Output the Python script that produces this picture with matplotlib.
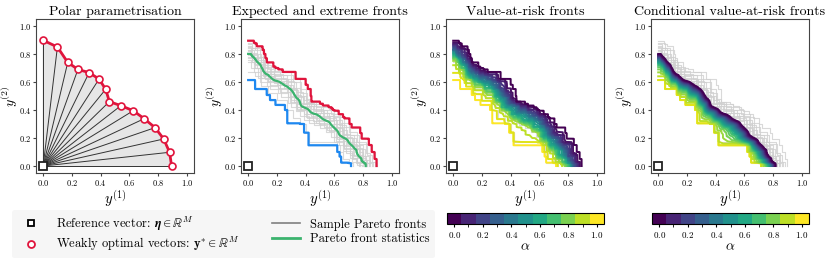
import numpy as np
import matplotlib
matplotlib.use('Agg')
import matplotlib.pyplot as plt
from matplotlib.colors import ListedColormap, BoundaryNorm
from matplotlib.cm import ScalarMappable
from matplotlib.lines import Line2D

plt.rcParams['font.family'] = 'serif'
plt.rcParams['font.serif'] = ['cmr10']
plt.rcParams['mathtext.fontset'] = 'cm'
plt.rcParams['axes.formatter.use_mathtext'] = True

# --- data ---
# polar parametrisation of one front (15 rays)
polar_y1 = [0.0, 0.099, 0.171, 0.242, 0.320, 0.389, 0.435, 0.461, 0.541, 0.627, 0.703, 0.779, 0.839, 0.880, 0.894]
polar_y2 = [0.898, 0.850, 0.740, 0.690, 0.667, 0.621, 0.548, 0.460, 0.431, 0.395, 0.338, 0.274, 0.193, 0.098, 0.0]

# sample Pareto fronts, as (y1, y2) corner points of each staircase
front_max = [(0.04, 0.895), (0.06, 0.875), (0.10, 0.855), (0.11, 0.83), (0.12, 0.80), (0.13, 0.77),
             (0.175, 0.74), (0.21, 0.70), (0.24, 0.69), (0.33, 0.672), (0.40, 0.622), (0.415, 0.58),
             (0.435, 0.55), (0.44, 0.50), (0.50, 0.46), (0.52, 0.445), (0.56, 0.432), (0.59, 0.41),
             (0.63, 0.395), (0.66, 0.37), (0.705, 0.34), (0.72, 0.30), (0.78, 0.275), (0.79, 0.235),
             (0.84, 0.195), (0.86, 0.15), (0.88, 0.10), (0.894, 0.05)]
front_j = [(0.05, 0.88), (0.10, 0.83), (0.13, 0.76), (0.19, 0.71), (0.30, 0.67), (0.36, 0.62), (0.40, 0.55),
           (0.44, 0.48), (0.52, 0.44), (0.60, 0.40), (0.67, 0.35), (0.71, 0.28), (0.77, 0.22), (0.83, 0.16),
           (0.86, 0.08), (0.88, 0.03)]
front_a = [(0.03, 0.87), (0.08, 0.84), (0.12, 0.78), (0.16, 0.72), (0.22, 0.68), (0.31, 0.65), (0.37, 0.60),
           (0.41, 0.52), (0.47, 0.46), (0.58, 0.42), (0.64, 0.37), (0.70, 0.31), (0.76, 0.24), (0.82, 0.17),
           (0.85, 0.09), (0.87, 0.03)]
front_k = [(0.03, 0.86), (0.09, 0.80), (0.14, 0.74), (0.18, 0.69), (0.27, 0.65), (0.33, 0.60), (0.38, 0.53),
           (0.42, 0.47), (0.51, 0.43), (0.59, 0.38), (0.65, 0.33), (0.69, 0.26), (0.75, 0.20), (0.81, 0.12),
           (0.85, 0.04)]
front_b = [(0.02, 0.85), (0.06, 0.81), (0.11, 0.76), (0.15, 0.70), (0.24, 0.66), (0.30, 0.62), (0.36, 0.56),
           (0.40, 0.50), (0.46, 0.45), (0.55, 0.40), (0.63, 0.36), (0.68, 0.29), (0.74, 0.22), (0.80, 0.15),
           (0.84, 0.07), (0.86, 0.02)]
front_l = [(0.06, 0.84), (0.10, 0.78), (0.12, 0.73), (0.18, 0.67), (0.26, 0.63), (0.31, 0.58), (0.37, 0.51),
           (0.44, 0.45), (0.52, 0.41), (0.60, 0.36), (0.65, 0.30), (0.71, 0.23), (0.77, 0.17), (0.80, 0.10),
           (0.83, 0.04)]
front_c = [(0.04, 0.83), (0.09, 0.77), (0.13, 0.71), (0.19, 0.66), (0.28, 0.62), (0.34, 0.55), (0.38, 0.49),
           (0.45, 0.43), (0.53, 0.39), (0.61, 0.34), (0.66, 0.27), (0.72, 0.21), (0.78, 0.14), (0.82, 0.06),
           (0.84, 0.02)]
front_p = [(0.02, 0.83), (0.07, 0.79), (0.11, 0.74), (0.16, 0.68), (0.23, 0.64), (0.32, 0.61), (0.35, 0.54),
           (0.39, 0.50), (0.47, 0.44), (0.56, 0.38), (0.62, 0.33), (0.67, 0.28), (0.73, 0.20), (0.79, 0.13),
           (0.82, 0.07), (0.84, 0.02)]
front_d = [(0.02, 0.82), (0.07, 0.78), (0.10, 0.72), (0.17, 0.64), (0.25, 0.60), (0.33, 0.56), (0.36, 0.48),
           (0.43, 0.42), (0.50, 0.38), (0.57, 0.35), (0.64, 0.30), (0.69, 0.22), (0.76, 0.16), (0.80, 0.08),
           (0.83, 0.03)]
front_m = [(0.03, 0.81), (0.06, 0.76), (0.11, 0.70), (0.18, 0.63), (0.27, 0.59), (0.32, 0.53), (0.37, 0.46),
           (0.44, 0.40), (0.52, 0.36), (0.60, 0.32), (0.66, 0.25), (0.71, 0.18), (0.77, 0.12), (0.80, 0.06),
           (0.82, 0.02)]
front_e = [(0.03, 0.80), (0.08, 0.74), (0.12, 0.68), (0.20, 0.62), (0.29, 0.58), (0.35, 0.50), (0.41, 0.44),
           (0.48, 0.37), (0.56, 0.33), (0.63, 0.28), (0.68, 0.20), (0.74, 0.15), (0.79, 0.07), (0.82, 0.02)]
front_n = [(0.04, 0.79), (0.10, 0.73), (0.14, 0.66), (0.21, 0.61), (0.28, 0.56), (0.33, 0.49), (0.39, 0.42),
           (0.45, 0.37), (0.53, 0.32), (0.61, 0.28), (0.66, 0.21), (0.71, 0.14), (0.76, 0.08), (0.80, 0.03)]
front_f = [(0.05, 0.78), (0.09, 0.72), (0.14, 0.65), (0.22, 0.60), (0.30, 0.55), (0.34, 0.47), (0.40, 0.41),
           (0.47, 0.35), (0.55, 0.31), (0.62, 0.26), (0.67, 0.19), (0.73, 0.13), (0.78, 0.06), (0.81, 0.02)]
front_o = [(0.05, 0.77), (0.09, 0.70), (0.15, 0.63), (0.22, 0.58), (0.29, 0.53), (0.34, 0.46), (0.41, 0.40),
           (0.49, 0.34), (0.56, 0.30), (0.61, 0.25), (0.67, 0.18), (0.71, 0.12), (0.75, 0.06), (0.78, 0.02)]
front_g = [(0.02, 0.76), (0.07, 0.70), (0.13, 0.63), (0.21, 0.57), (0.28, 0.52), (0.33, 0.45), (0.39, 0.39),
           (0.46, 0.33), (0.54, 0.29), (0.60, 0.24), (0.66, 0.17), (0.72, 0.11), (0.76, 0.05), (0.79, 0.01)]
front_h = [(0.04, 0.74), (0.08, 0.67), (0.15, 0.60), (0.23, 0.55), (0.30, 0.49), (0.36, 0.42), (0.42, 0.36),
           (0.50, 0.31), (0.58, 0.27), (0.63, 0.21), (0.68, 0.15), (0.72, 0.09), (0.77, 0.03)]
front_i = [(0.05, 0.674), (0.09, 0.64), (0.14, 0.57), (0.20, 0.52), (0.27, 0.47), (0.31, 0.40), (0.36, 0.34),
           (0.40, 0.30), (0.42, 0.24), (0.62, 0.175), (0.66, 0.10), (0.70, 0.05), (0.73, 0.02)]
front_min = [(0.048, 0.614), (0.129, 0.55), (0.152, 0.507), (0.19, 0.471), (0.256, 0.436), (0.272, 0.40),
             (0.389, 0.305), (0.42, 0.238), (0.636, 0.148), (0.647, 0.067), (0.716, 0.024)]
sample_fronts = [front_max, front_j, front_a, front_k, front_b, front_l, front_c, front_p, front_d,
                 front_m, front_e, front_n, front_f, front_o, front_g, front_h, front_i, front_min]

alpha_levels = [0.0, 0.05, 0.1, 0.15, 0.2, 0.25, 0.3, 0.35, 0.4, 0.45, 0.5,
                0.55, 0.6, 0.65, 0.7, 0.75, 0.8, 0.85, 0.9, 0.95, 1.0]
cbar_values = [0.0, 0.1, 0.2, 0.3, 0.4, 0.5, 0.6, 0.7, 0.8, 0.9, 1.0]

RED = '#e0143c'
BLUE = '#1e88f0'
GREEN = '#3bb36e'
GREY = '#d0d0d0'


def staircase(pts):
    xs, ys = [0.0], [pts[0][1]]
    for i, (x, y) in enumerate(pts):
        nxt = pts[i + 1][1] if i + 1 < len(pts) else 0.0
        xs += [x, x]
        ys += [y, nxt]
    return xs, ys


# radial distance of each front along many rays from the origin
theta = np.linspace(0, np.pi / 2, 900)
cos_t = np.cos(theta)[:, None]
sin_t = np.sin(theta)[:, None]


def radial(pts):
    p = np.array(pts)
    with np.errstate(divide='ignore'):
        r = np.minimum(p[:, 0][None, :] / cos_t, p[:, 1][None, :] / sin_t)
    return r.max(axis=1)


R = np.array([radial(f) for f in sample_fronts])
R_sorted = np.sort(R, axis=0)
n = R.shape[0]


def to_xy(r):
    return r * np.cos(theta), r * np.sin(theta)


def var(a):
    return np.quantile(R, 1 - a, axis=0)


def cvar(a):
    q = 1 - a
    if q <= 1e-9:
        return R_sorted[0]
    tot = np.zeros(R.shape[1])
    for k in range(n):
        w = max(0.0, min((k + 1) / n, q) - k / n)
        tot += w * R_sorted[k]
    return tot / q


fig = plt.figure(figsize=(8.3, 2.63), dpi=100)
lefts = [36, 241, 446, 651]
axes = [fig.add_axes([l / 830, 1 - 173 / 263, 158 / 830, 154 / 263]) for l in lefts]
titles = ['Polar parametrisation', 'Expected and extreme fronts',
          'Value-at-risk fronts', 'Conditional value-at-risk fronts']

for ax, t in zip(axes, titles):
    ax.set_xlim(-0.05, 1.05)
    ax.set_ylim(-0.05, 1.05)
    ax.set_title(t, fontsize=10, pad=3)
    ax.set_xlabel(r'$y^{(1)}$', fontsize=10.5, labelpad=0)
    ax.set_ylabel(r'$y^{(2)}$', fontsize=10)
    ax.yaxis.set_label_coords(-0.1, 0.5)
    ax.tick_params(labelsize=6, length=2.5, pad=1.2, color='#444444')
    for s in ax.spines.values():
        s.set_color('#444444')
    ax.set_xticks([0.0, 0.2, 0.4, 0.6, 0.8, 1.0])
    ax.set_yticks([0.0, 0.2, 0.4, 0.6, 0.8, 1.0])

# panel 1
ax = axes[0]
ax.fill(np.r_[0.0, polar_y1], np.r_[0.0, polar_y2], color='#e6e6e6', zorder=1)
for x, y in zip(polar_y1, polar_y2):
    ax.plot([0, x], [0, y], color='#333333', lw=0.7, zorder=2)
ax.plot(polar_y1, polar_y2, color=RED, lw=2, zorder=3)
ax.plot(polar_y1, polar_y2, ls='none', marker='o', ms=5, mfc='white', mec=RED, mew=1.2, zorder=4)

# panel 2
ax = axes[1]
for f in sample_fronts:
    ax.plot(*staircase(f), color=GREY, lw=0.8, alpha=0.8, zorder=1)
ax.plot(*to_xy(R.max(axis=0)), color=RED, lw=1.6, zorder=3)
ax.plot(*to_xy(R.min(axis=0)), color=BLUE, lw=1.6, zorder=3)
ax.plot(*to_xy(R.mean(axis=0)), color=GREEN, lw=1.6, zorder=3)

# panels 3 and 4
for ax, stat in [(axes[2], var), (axes[3], cvar)]:
    for f in sample_fronts:
        ax.plot(*staircase(f), color=GREY, lw=0.8, alpha=0.8, zorder=1)
    for a in alpha_levels[::-1]:
        ax.plot(*to_xy(stat(a)), color=plt.cm.viridis(a), lw=1.4, zorder=3)

for ax in axes:
    ax.plot([0], [0], ls='none', marker='s', ms=5.5, mfc='white', mec='#222222', mew=1.3, zorder=6)

# colorbars
cmap = ListedColormap(plt.cm.viridis(np.array(cbar_values)))
bounds = np.r_[np.array(cbar_values) - 0.05, 1.05]
norm = BoundaryNorm(bounds, cmap.N)
for l in [447, 652]:
    cax = fig.add_axes([l / 830, 1 - 224 / 263, 157 / 830, 11 / 263])
    cb = fig.colorbar(ScalarMappable(norm=norm, cmap=cmap), cax=cax, orientation='horizontal')
    cb.set_ticks([0.0, 0.2, 0.4, 0.6, 0.8, 1.0])
    cb.ax.set_xticks([0.1, 0.3, 0.5, 0.7, 0.9], minor=True)
    cb.ax.tick_params(labelsize=6.5, length=2.5, pad=2)
    cb.ax.tick_params(which='minor', length=2)
    cb.outline.set_linewidth(0.8)
    cb.set_label(r'$\alpha$', fontsize=10, labelpad=1)

# legend
handles = [
    Line2D([], [], ls='none', marker='s', ms=5, mfc='white', mec='black', mew=1.3),
    Line2D([], [], ls='none', marker='o', ms=5, mfc='white', mec=RED, mew=1.3),
    Line2D([], [], color='#808080', lw=1.2),
    Line2D([], [], color=GREEN, lw=2.0),
]
labels = [r'Reference vector: $\boldsymbol{\eta} \in \mathbb{R}^M$',
          r'Weakly optimal vectors: $\mathbf{y}^{*} \in \mathbb{R}^M$',
          'Sample Pareto fronts', 'Pareto front statistics']
leg = fig.legend(handles, labels, loc='upper left', bbox_to_anchor=(12 / 830, 1 - 210 / 263),
                 ncol=2, fontsize=9, frameon=True, facecolor='#f6f6f6', edgecolor='none',
                 framealpha=1, handlelength=2.3, columnspacing=2.6, labelspacing=0.2,
                 borderpad=0.38, handletextpad=0.8, borderaxespad=0)

fig.savefig('out.png', dpi=100)
